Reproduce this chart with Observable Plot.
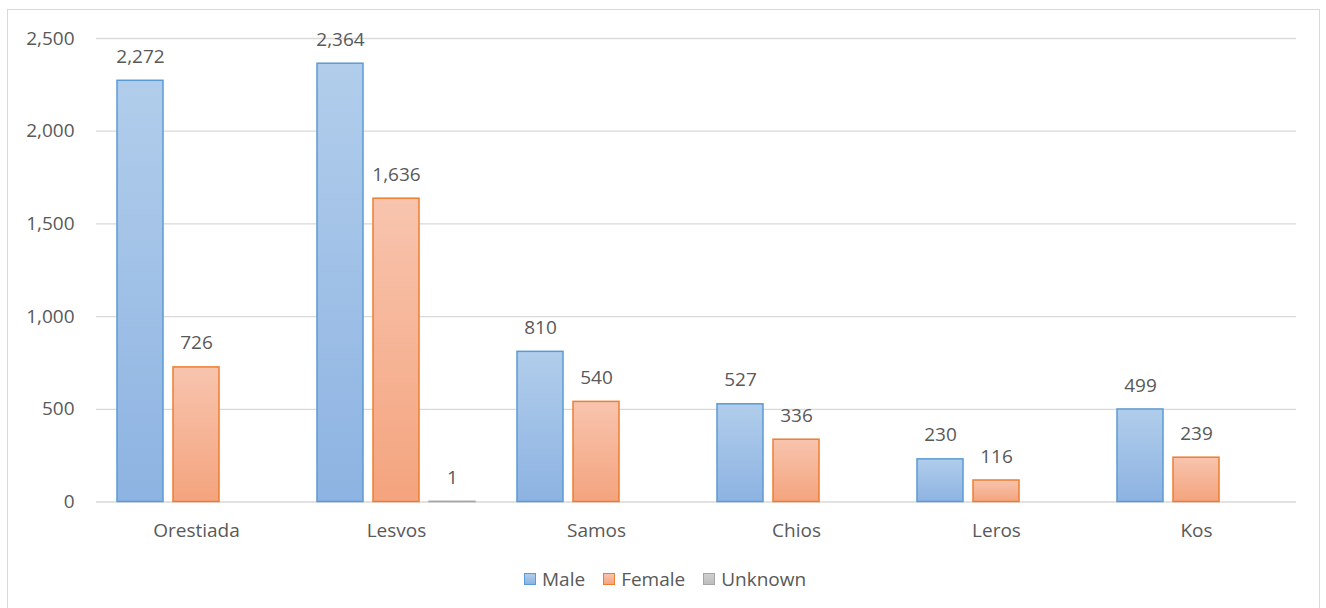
<!DOCTYPE html>
<html>
<head>
<meta charset="utf-8">
<script src="https://cdn.jsdelivr.net/npm/d3@7"></script>
<script src="https://cdn.jsdelivr.net/npm/@observablehq/plot@0.6"></script>
<style>
  html, body { margin: 0; padding: 0; background: #fff; }
  body { width: 1326px; height: 608px; position: relative; overflow: hidden; font-family: "Open Sans", sans-serif; }
  #frame { position: absolute; left: 7px; top: 9px; width: 1313px; height: 600px; border: 1.5px solid #d9d9d9; box-sizing: border-box; }
  #chart { position: absolute; left: 0; top: 0; }
  #legend { position: absolute; left: 524px; top: 566px; display: flex; align-items: center; font-size: 19px; color: #595959; white-space: nowrap; }
  #legend .item { display: flex; align-items: center; margin-right: 18px; }
  #legend .sw { width: 10px; height: 10px; border: 1.5px solid; margin-right: 6px; }
</style>
</head>
<body>
<div id="frame"></div>
<div id="chart"></div>
<div id="legend"></div>
<script>
const categories = ["Orestiada", "Lesvos", "Samos", "Chios", "Leros", "Kos"];
const series = ["Male", "Female", "Unknown"];
const male = [2272, 2364, 810, 527, 230, 499];
const female = [726, 1636, 540, 336, 116, 239];
const unknown = [null, 1, null, null, null, null];
const yTicks = [0, 500, 1000, 1500, 2000, 2500];

const strokes = { Male: "#5b9bd5", Female: "#ed7d31", Unknown: "#a5a5a5" };
const grads = {
  Male: ["#b1cdeb", "#8db3e2"],
  Female: ["#f8c4ae", "#f4a47e"],
  Unknown: ["#d0d0d0", "#bdbdbd"]
};

const table = [];
categories.forEach((c, i) => {
  table.push({ cat: c, s: "Male", v: male[i] });
  table.push({ cat: c, s: "Female", v: female[i] });
  table.push({ cat: c, s: "Unknown", v: unknown[i] });
});
const valid = table.filter(d => d.v != null);
const fmt = d3.format(",");

const marks = [
  Plot.gridY(yTicks, { stroke: "#d9d9d9", strokeOpacity: 1, strokeWidth: 1.3 }),
  Plot.axisY(yTicks, { tickSize: 0, tickPadding: 22, tickFormat: fmt, fill: "#595959", fontSize: 19, label: null }),
  Plot.axisFx({ anchor: "bottom", tickSize: 0, tickPadding: 21, fill: "#595959", fontSize: 19, label: null })
];
series.forEach(s => {
  marks.push(Plot.barY(valid.filter(d => d.s === s), {
    fx: "cat", x: "s", y: "v",
    fill: `url(#grad${s})`, stroke: strokes[s], strokeWidth: 1.5, inset: 0
  }));
});
marks.push(Plot.text(valid, {
  fx: "cat", x: "s", y: "v", text: d => fmt(d.v),
  dy: -24, fill: "#595959", fontSize: 19
}));

const chart = Plot.plot({
  width: 1326,
  height: 560,
  marginLeft: 95,
  marginRight: 30,
  marginTop: 38,
  marginBottom: 58.5,
  style: { fontFamily: "Open Sans, sans-serif", fontSize: "19px", color: "#595959", background: "transparent" },
  fx: { domain: categories, padding: 0, label: null, axis: null },
  x: { domain: series, paddingInner: 0.179, paddingOuter: 0.375, axis: null },
  y: { domain: [0, 2500], axis: null },
  marks
});

// gradient definitions
const defs = d3.select(chart).insert("defs", ":first-child");
series.forEach(s => {
  const g = defs.append("linearGradient").attr("id", "grad" + s)
    .attr("x1", 0).attr("y1", 0).attr("x2", 0).attr("y2", 1);
  g.append("stop").attr("offset", "0%").attr("stop-color", grads[s][0]);
  g.append("stop").attr("offset", "100%").attr("stop-color", grads[s][1]);
});

document.getElementById("chart").appendChild(chart);

const legend = document.getElementById("legend");
series.forEach(s => {
  const item = document.createElement("div");
  item.className = "item";
  const sw = document.createElement("div");
  sw.className = "sw";
  sw.style.borderColor = strokes[s];
  sw.style.background = `linear-gradient(${grads[s][0]}, ${grads[s][1]})`;
  const t = document.createElement("span");
  t.textContent = s;
  item.appendChild(sw);
  item.appendChild(t);
  legend.appendChild(item);
});
</script>
</body>
</html>
